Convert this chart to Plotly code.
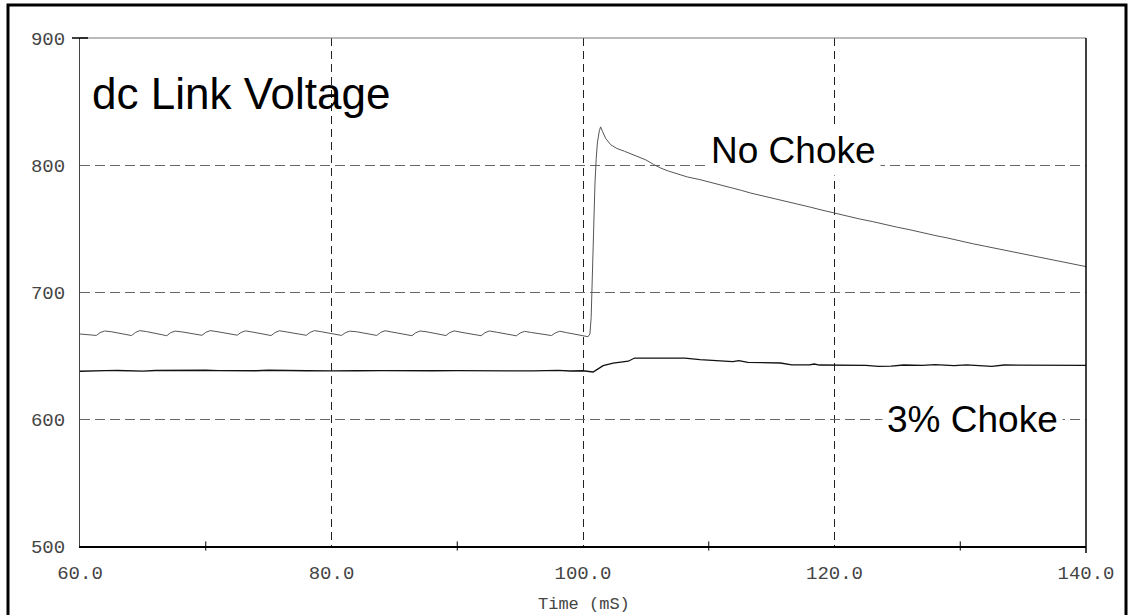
import plotly.graph_objects as go

# ---- data ----
t_nochoke = [60.0, 60.6,
             61.3, 61.6, 61.95, 62.5, 63.2, 63.8,
             64.1, 64.4, 64.75, 65.3, 66.0, 66.6,
             66.9, 67.2, 67.55, 68.1, 68.8, 69.4,
             69.7, 70.0, 70.35, 70.9, 71.6, 72.2,
             72.5, 72.8, 73.15, 73.7, 74.4, 75.0,
             75.2, 75.5, 75.85, 76.4, 77.1, 77.7,
             78.0, 78.3, 78.65, 79.2, 79.9, 80.5,
             80.8, 81.1, 81.45, 82.0, 82.7, 83.3,
             83.6, 83.9, 84.25, 84.8, 85.5, 86.1,
             86.4, 86.7, 87.05, 87.6, 88.3, 88.9,
             89.1, 89.4, 89.75, 90.3, 91.0, 91.6,
             91.9, 92.2, 92.55, 93.1, 93.8, 94.4,
             94.7, 95.0, 95.35, 95.9, 96.6, 97.2,
             97.5, 97.8, 98.15, 98.7, 99.4, 100.0,
             100.4, 100.55, 100.65, 100.75, 100.85, 100.95, 101.05, 101.15, 101.3, 101.4, 101.55, 101.8,
             102.2, 102.7, 103.3, 103.9, 104.5, 105.0, 105.6, 106.2, 106.8, 107.5, 108.3, 109.3, 110.2,
             111.0, 111.8, 112.6, 113.3, 114.2, 115.0, 116.0, 117.0, 118.0, 119.0, 120.0, 121.0, 122.0,
             123.0, 124.0, 125.0, 126.0, 127.0, 128.0, 129.0, 130.0, 131.0, 132.0, 133.0, 134.0, 135.0,
             136.0, 137.0, 138.0, 139.0, 140.0]
v_nochoke = [666.9, 666.3,
             665.8, 668.0, 669.3, 668.7, 667.4, 666.1,
             665.7, 668.1, 669.6, 668.8, 667.3, 666.0,
             665.6, 667.9, 669.2, 668.6, 667.4, 666.1,
             665.9, 668.2, 669.6, 668.8, 667.4, 666.2,
             666.0, 668.1, 669.4, 668.5, 667.2, 665.9,
             665.7, 668.0, 669.5, 668.6, 667.3, 666.1,
             665.9, 668.2, 669.6, 668.7, 667.4, 666.0,
             665.8, 667.9, 669.2, 668.7, 667.4, 666.0,
             665.8, 668.1, 669.5, 668.5, 667.1, 665.9,
             665.6, 667.9, 669.3, 668.6, 667.3, 665.9,
             665.7, 668.0, 669.4, 668.3, 667.1, 665.8,
             665.6, 667.9, 669.3, 668.4, 667.1, 665.8,
             665.5, 667.7, 669.0, 668.1, 666.9, 665.9,
             665.7, 667.8, 669.1, 668.0, 666.8, 666.0,
             664.8, 667.0, 680.0, 715.0, 755.0, 785.0, 805.0, 818.0, 827.0, 830.0, 826.5, 821.0,
             816.0, 813.0, 810.8, 808.5, 806.3, 804.0, 800.5, 797.5, 795.2, 792.8, 790.6, 788.5, 786.3,
             784.0, 782.0, 780.0, 778.0, 776.0, 774.0, 771.5, 769.5, 767.0, 764.5, 762.0, 760.0, 757.5,
             755.5, 753.0, 751.0, 749.0, 746.5, 744.5, 742.5, 740.0, 738.0, 736.0, 734.0, 732.0, 730.0,
             728.0, 726.0, 724.0, 722.0, 720.0]

t_choke = [60.0, 61.0, 62.0, 63.0, 64.0, 65.0, 66.0, 67.0, 68.0, 69.0, 70.0, 71.0, 72.0, 74.0, 75.0, 76.0,
           78.0, 80.0, 81.0, 82.0, 84.0, 86.0, 87.0, 88.0, 90.0, 92.0, 94.0, 96.0, 98.0, 99.0, 100.0,
           100.5, 100.8, 101.2, 101.6, 102.4, 103.0, 103.6, 104.1, 106.0, 108.1, 109.3, 110.6, 111.9,
           112.4, 113.1, 115.7, 116.6, 118.0, 118.4, 118.8, 121.0, 122.5, 123.5, 124.5, 125.5, 127.0,
           128.0, 129.5, 130.5, 131.5, 132.5, 133.5, 135.0, 137.0, 139.0, 140.0]
v_choke = [637.6, 637.6, 638.1, 638.2, 638.0, 637.7, 638.2, 638.3, 638.0, 638.0, 638.4, 638.1, 638.0, 638.0, 638.4, 638.1,
           638.0, 637.9, 638.2, 638.0, 638.1, 637.9, 638.3, 638.0, 638.1, 638.0, 638.2, 637.9, 638.3, 637.8, 638.0,
           637.3, 637.0, 639.5, 642.0, 644.0, 644.8, 645.5, 648.0, 648.0, 648.0, 646.8, 645.8, 645.2,
           646.0, 644.6, 644.1, 642.6, 642.6, 643.3, 642.5, 642.5, 642.2, 641.5, 641.6, 642.5, 642.3,
           642.8, 642.0, 642.6, 642.2, 641.4, 642.5, 642.4, 642.3, 642.4, 642.2]

x_major = [60, 80, 100, 120, 140]
x_major_labels = ["60.0", "80.0", "100.0", "120.0", "140.0"]
x_minor = [70, 90, 110, 130]
y_ticks = [500, 600, 700, 800, 900]
y_labels = ["500", "600", "700", "800", "900"]

fig = go.Figure()
fig.add_trace(go.Scatter(x=t_nochoke, y=v_nochoke, mode="lines", name="No Choke",
                         line=dict(color="#555555", width=1)))
fig.add_trace(go.Scatter(x=t_choke, y=v_choke, mode="lines", name="3% Choke",
                         line=dict(color="#111111", width=1.3)))

mono = "Liberation Mono, Courier New, monospace"
sans = "Liberation Sans, Arial, sans-serif"

shapes = []
# minor ticks crossing the bottom axis
for xm in x_minor:
    shapes.append(dict(type="line", xref="x", yref="paper", x0=xm, x1=xm, y0=-0.009, y1=0.009,
                       line=dict(color="black", width=1)))
# top axis line (gray) and right axis line (black)
shapes.append(dict(type="line", xref="paper", yref="paper", x0=0, x1=1, y0=1, y1=1,
                   line=dict(color="#777777", width=1)))
shapes.append(dict(type="line", xref="paper", yref="paper", x0=-0.008, x1=0.008, y0=1, y1=1,
                   line=dict(color="black", width=1.5)))
shapes.append(dict(type="line", xref="paper", yref="paper", x0=1, x1=1, y0=-0.014, y1=1,
                   line=dict(color="black", width=1.5)))
# outer frame
shapes.append(dict(type="rect", xref="paper", yref="paper",
                   x0=(8 - 80) / 1006, x1=(1126 - 80) / 1006,
                   y0=(546 - 620) / 508, y1=(546 - 5) / 508,
                   line=dict(color="black", width=3), fillcolor="rgba(0,0,0,0)", layer="above"))

fig.update_layout(
    width=1129, height=615,
    margin=dict(l=80, r=43, t=38, b=69),
    paper_bgcolor="white", plot_bgcolor="white",
    showlegend=False,
    hovermode=False,
    shapes=shapes,
    xaxis=dict(range=[60, 140], tickvals=x_major, ticktext=x_major_labels,
               showgrid=True, gridcolor="#222222", griddash="8px,5px", gridwidth=1,
               showline=True, linecolor="black", linewidth=1.5,
               ticks="", zeroline=False, automargin=False,
               tickfont=dict(family=mono, size=19, color="#444444"),
               ticklabelstandoff=8),
    yaxis=dict(range=[500, 900], tickvals=y_ticks, ticktext=y_labels,
               showgrid=True, gridcolor="#666666", griddash="10px,5px", gridwidth=1,
               showline=True, linecolor="#444444", linewidth=1.2,
               ticks="", zeroline=False, automargin=False,
               tickfont=dict(family=mono, size=19, color="#444444"),
               ticklabelstandoff=10),
    annotations=[
        dict(text="Time (mS)", x=0.501, y=(546 - 604) / 508, xref="paper", yref="paper",
             xanchor="center", yanchor="middle", showarrow=False,
             font=dict(family=mono, size=17, color="#444444")),
        dict(text="dc Link Voltage", x=60.8, y=856, xref="x", yref="y", xanchor="left", yanchor="middle",
             showarrow=False, font=dict(family=sans, size=44, color="black")),
        dict(text="No Choke", x=109.8, y=811.5, xref="x", yref="y", xanchor="left", yanchor="middle",
             showarrow=False, font=dict(family=sans, size=37, color="black"),
             bgcolor="white", borderpad=4),
        dict(text="3% Choke", x=123.8, y=599.5, xref="x", yref="y", xanchor="left", yanchor="middle",
             showarrow=False, font=dict(family=sans, size=37, color="black"),
             bgcolor="white", borderpad=4),
    ],
)

fig.write_html("out.html", config={"displayModeBar": False},
               post_script="document.body.style.margin='0';document.body.style.overflow='hidden';")
